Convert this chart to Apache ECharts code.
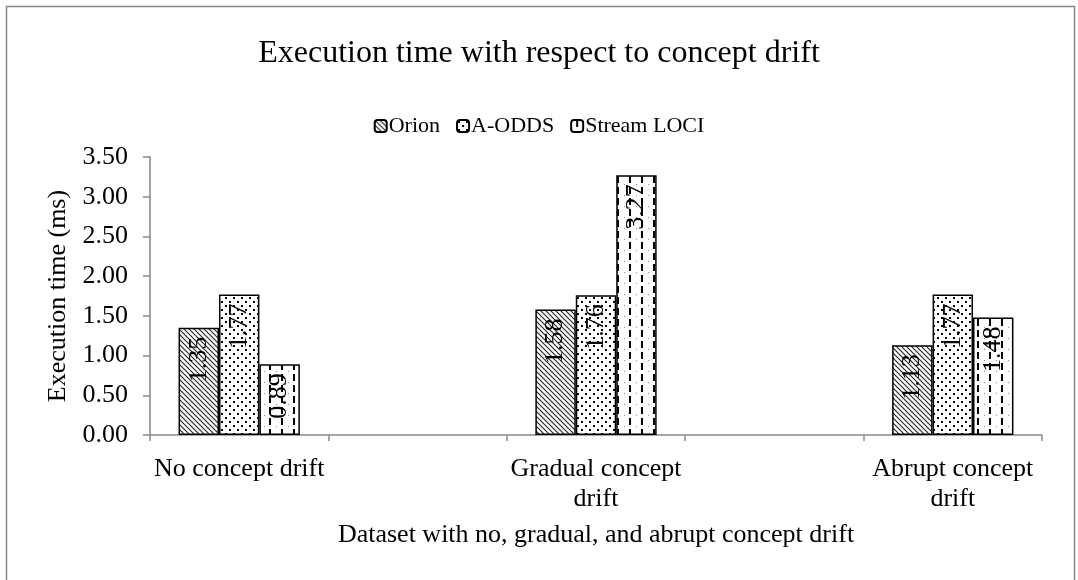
<!DOCTYPE html>
<html><head><meta charset="utf-8">
<script src="https://cdn.jsdelivr.net/npm/echarts@6/dist/echarts.min.js"></script>
<style>html,body{margin:0;padding:0;background:#fff}#c{width:1078px;height:580px}</style>
</head><body><div id="c"></div>
<script>
const categories = ['No concept drift', 'Gradual concept drift', 'Abrupt concept drift'];
const seriesNames = ['Orion', 'A-ODDS', 'Stream LOCI'];
const orion = [1.35, 1.58, 1.13];
const aodds = [1.77, 1.76, 1.77];
const streamLoci = [0.89, 3.27, 1.48];
const yMin = 0, yMax = 3.5, yStep = 0.5;

function makePattern(kind) {
  const c = document.createElement('canvas');
  const ctx = c.getContext('2d');
  if (kind === 'diag') {
    c.width = 5; c.height = 5;
    ctx.fillStyle = '#fff'; ctx.fillRect(0, 0, 5, 5);
    ctx.strokeStyle = '#222'; ctx.lineWidth = 1.1;
    ctx.beginPath();
    ctx.moveTo(-1, -1); ctx.lineTo(6, 6);
    ctx.moveTo(-1, 4); ctx.lineTo(1, 6);
    ctx.moveTo(4, -1); ctx.lineTo(6, 1);
    ctx.stroke();
  } else if (kind === 'dots') {
    c.width = 8; c.height = 8;
    ctx.fillStyle = '#fff'; ctx.fillRect(0, 0, 8, 8);
    ctx.fillStyle = '#000';
    ctx.fillRect(1, 1, 2, 2);
    ctx.fillRect(5, 5, 2, 2);
  } else {
    c.width = 12; c.height = 11;
    ctx.fillStyle = '#fff'; ctx.fillRect(0, 0, 12, 11);
    ctx.fillStyle = '#000';
    ctx.fillRect(5, 0, 2, 7);
    ctx.fillStyle = '#888';
    ctx.fillRect(0, 8, 1, 1);
  }
  return c;
}

// axis with blank spacer categories between the groups
const axisData = [];
categories.forEach((c, i) => { if (i) axisData.push(''); axisData.push(c); });
function spaced(arr) {
  const out = [];
  arr.forEach((v, i) => { if (i) out.push('-'); out.push(v); });
  return out;
}

const font = '"Liberation Serif", "Times New Roman", serif';
const patterns = ['diag', 'dots', 'dash'];
const datas = [orion, aodds, streamLoci];

const series = seriesNames.map((n, i) => ({
  name: n,
  type: 'bar',
  data: spaced(datas[i]),
  barGap: '0%',
  barCategoryGap: '32%',
  itemStyle: {
    color: { image: makePattern(patterns[i]), repeat: 'repeat' },
    borderColor: '#000',
    borderWidth: 1.5
  },
  label: {
    show: true,
    position: 'insideTop',
    rotate: 90,
    align: 'right',
    verticalAlign: 'middle',
    distance: 9,
    fontFamily: font,
    fontSize: 26,
    color: '#000',
    formatter: p => Number(p.value).toFixed(2)
  }
}));

const chart = echarts.init(document.getElementById('c'), null, { renderer: 'canvas' });
chart.setOption({
  animation: false,
  backgroundColor: '#fff',
  graphic: [{
    type: 'rect', shape: { x: 6.5, y: 6.5, width: 1068, height: 600 },
    style: { fill: 'none', stroke: '#898989', lineWidth: 1.5 }, silent: true, z: -1
  }],
  title: {
    text: 'Execution time with respect to concept drift',
    left: 'center', top: 33,
    textStyle: { fontFamily: font, fontSize: 32, fontWeight: 'normal', color: '#000' }
  },
  legend: {
    top: 110, left: 'center',
    itemWidth: 12, itemHeight: 12, itemGap: 16,
    textStyle: { fontFamily: font, fontSize: 22, color: '#000', padding: [0, 0, 0, -3] },
    data: seriesNames
  },
  grid: { left: 150, right: 36, top: 157, bottom: 145 },
  xAxis: {
    type: 'category',
    data: axisData,
    name: 'Dataset with no, gradual, and abrupt concept drift',
    nameLocation: 'middle', nameGap: 87,
    nameTextStyle: { fontFamily: font, fontSize: 26, color: '#000' },
    axisLine: { lineStyle: { color: '#898989', width: 1.5 } },
    axisTick: { show: true, length: 6, interval: 0, lineStyle: { color: '#898989', width: 1.5 } },
    axisLabel: {
      interval: 0, margin: 19, fontFamily: font, fontSize: 26, color: '#000', lineHeight: 30,
      formatter: v => {
        if (v.length <= 16) return v;
        const k = v.lastIndexOf(' ');
        return v.slice(0, k) + '\n' + v.slice(k + 1);
      }
    }
  },
  yAxis: {
    type: 'value', min: yMin, max: yMax, interval: yStep,
    name: 'Execution time (ms)',
    nameLocation: 'middle', nameGap: 78,
    nameTextStyle: { fontFamily: font, fontSize: 26, color: '#000' },
    splitLine: { show: false },
    axisLine: { show: true, lineStyle: { color: '#898989', width: 1.5 } },
    axisTick: { show: true, length: 7, lineStyle: { color: '#898989', width: 1.5 } },
    axisLabel: { margin: 22, fontFamily: font, fontSize: 26, color: '#000', formatter: v => v.toFixed(2) }
  },
  series: series
});
</script></body></html>
